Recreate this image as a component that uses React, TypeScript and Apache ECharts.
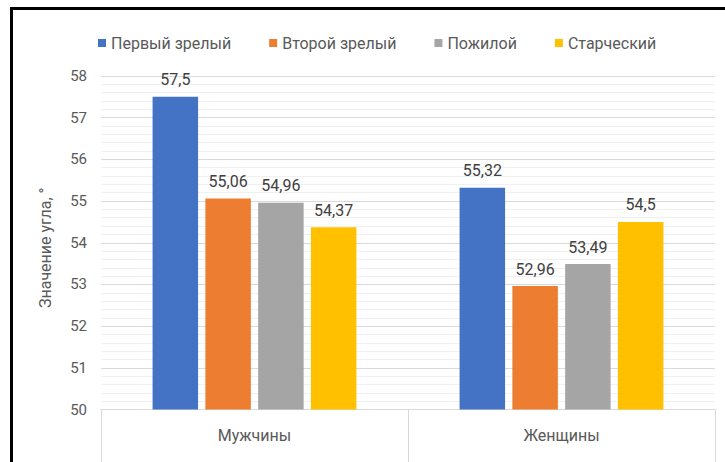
import React, { useEffect, useRef } from "react";
import * as echarts from "echarts";

const categories = ["Мужчины", "Женщины"];
const seriesNames = ["Первый зрелый", "Второй зрелый", "Пожилой", "Старческий"];
const firstMature = [57.5, 55.32];
const secondMature = [55.06, 52.96];
const elderly = [54.96, 53.49];
const senile = [54.37, 54.5];
const seriesColors = ["#4472C4", "#ED7D31", "#A5A5A5", "#FFC000"];
const yMin = 50;
const yMax = 58;
const yTitle = "Значение угла, °";

const FONT = "Roboto, 'Noto Sans', sans-serif";

export default function App() {
  const ref = useRef<HTMLDivElement>(null);
  useEffect(() => {
    if (!ref.current) return;
    const chart = echarts.init(ref.current, null, { renderer: "svg" });
    const values = [firstMature, secondMature, elderly, senile];
    chart.setOption({
      animation: false,
      backgroundColor: "#ffffff",
      textStyle: { fontFamily: FONT },
      legend: {
        data: seriesNames,
        left: 93,
        top: 30,
        icon: "rect",
        itemWidth: 8,
        itemHeight: 8,
        itemGap: 38,
        textStyle: { color: "#595959", fontSize: 16, fontFamily: FONT },
      },
      grid: { left: 101, right: 10, top: 76, bottom: 52.5, containLabel: false },
      xAxis: {
        type: "category",
        data: categories,
        axisLine: { show: true, lineStyle: { color: "#d9d9d9", width: 1 } },
        axisTick: { show: true, length: 60, lineStyle: { color: "#d9d9d9", width: 1 } },
        axisLabel: { color: "#595959", fontSize: 16, margin: 18, fontFamily: FONT },
      },
      yAxis: {
        type: "value",
        min: yMin,
        max: yMax,
        interval: 1,
        name: yTitle,
        nameLocation: "middle",
        nameGap: 48,
        nameTextStyle: { color: "#595959", fontSize: 16, fontFamily: FONT, padding: [0, 10, 0, 0] },
        axisLine: { show: false },
        axisTick: { show: false },
        axisLabel: { color: "#595959", fontSize: 15, margin: 14, fontFamily: FONT },
        splitLine: { show: true, lineStyle: { color: "#d9d9d9", width: 1 } },
        minorTick: { show: false, splitNumber: 5 },
        minorSplitLine: { show: true, lineStyle: { color: "#f0f0f0", width: 1 } },
      },
      series: seriesNames.map((name, i) => ({
        name,
        type: "bar",
        data: values[i],
        barWidth: 45.5,
        barGap: "16%",
        itemStyle: { color: seriesColors[i] },
        label: {
          show: true,
          position: "top",
          distance: 9,
          color: "#404040",
          fontSize: 16,
          fontFamily: FONT,
          formatter: (p: any) => String(p.value).replace(".", ","),
        },
      })),
      graphic: [
        { type: "rect", shape: { x: 10, y: 7, width: 715, height: 3 }, style: { fill: "#000" }, z: 100 },
        { type: "rect", shape: { x: 10, y: 7, width: 3, height: 455 }, style: { fill: "#000" }, z: 100 },
      ],
    });
    return () => chart.dispose();
  }, []);
  return (
    <div
      ref={ref}
      style={{ position: "fixed", left: 0, top: 0, width: 725, height: 462 }}
    />
  );
}
